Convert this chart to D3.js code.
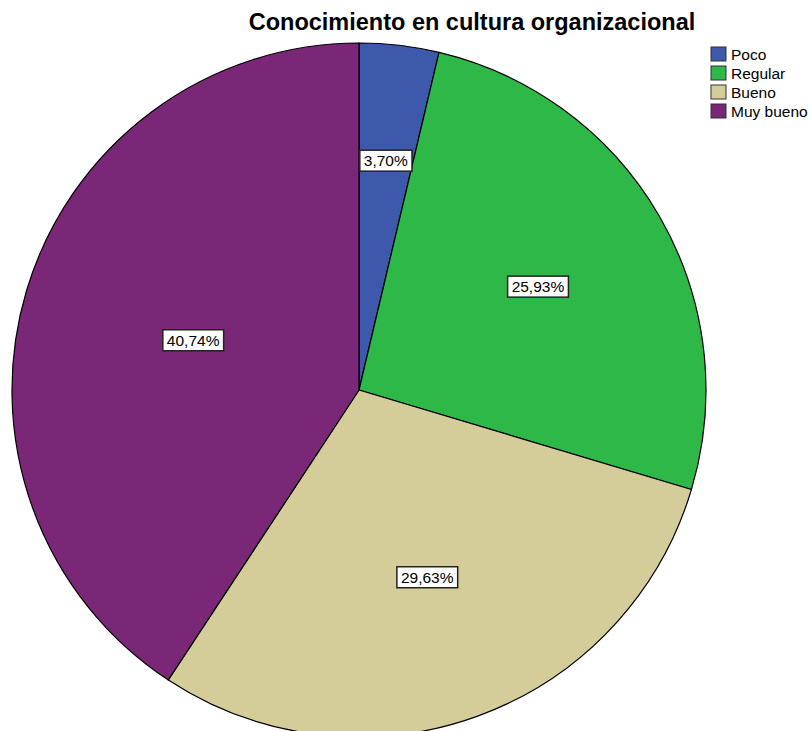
<!DOCTYPE html>
<html>
<head>
<meta charset="utf-8">
<script src="https://cdn.jsdelivr.net/npm/d3@7"></script>
<style>
  html, body { margin: 0; padding: 0; background: #fff; }
  svg { display: block; }
  text { font-family: "Liberation Sans", Arial, sans-serif; }
</style>
</head>
<body>
<svg id="chart" width="812" height="731"></svg>
<script>
// Respuestas por nivel de conocimiento
const categories = ["Poco", "Regular", "Bueno", "Muy bueno"];
const counts = [1, 7, 8, 11];
const percentLabels = ["3,70%", "25,93%", "29,63%", "40,74%"];
const colors = ["#3E58AC", "#2EB848", "#D4CD99", "#7A2778"];
const title = "Conocimiento en cultura organizacional";

const svg = d3.select("#chart");
const W = 812, H = 731;
const cx = 359, cy = 390, R = 347;

svg.append("rect").attr("width", W).attr("height", H).attr("fill", "#fff");

const pie = d3.pie().sort(null).value(d => d.value);
const data = categories.map((c, i) => ({ name: c, value: counts[i], label: percentLabels[i], color: colors[i] }));
const arcs = pie(data);
const arc = d3.arc().innerRadius(0).outerRadius(R);

const g = svg.append("g").attr("transform", `translate(${cx},${cy})`);

g.selectAll("path.slice")
  .data(arcs)
  .join("path")
  .attr("class", "slice")
  .attr("d", arc)
  .attr("fill", d => d.data.color)
  .attr("stroke", "#000")
  .attr("stroke-width", 1.2)
  .attr("stroke-linejoin", "round");

// Labels placed at the geometric centroid of each sector
const labels = g.selectAll("g.lbl")
  .data(arcs)
  .join("g")
  .attr("class", "lbl")
  .attr("transform", d => {
    const half = (d.endAngle - d.startAngle) / 2;
    const mid = (d.startAngle + d.endAngle) / 2;
    const dist = 2 * R * Math.sin(half) / (3 * half);
    return `translate(${dist * Math.sin(mid)},${-dist * Math.cos(mid)})`;
  });

labels.append("text")
  .attr("text-anchor", "middle")
  .attr("dy", "0.35em")
  .attr("font-size", 15.5)
  .attr("fill", "#000")
  .text(d => d.data.label)
  .each(function () {
    const b = this.getBBox();
    d3.select(this.parentNode).insert("rect", "text")
      .attr("x", b.x - 4)
      .attr("y", b.y - 2)
      .attr("width", b.width + 8)
      .attr("height", b.height + 4)
      .attr("fill", "#fff")
      .attr("stroke", "#222")
      .attr("stroke-width", 1.5);
  });

// Title
svg.append("text")
  .attr("x", 472)
  .attr("y", 30)
  .attr("text-anchor", "middle")
  .attr("font-size", 23.5)
  .attr("font-weight", "bold")
  .attr("fill", "#000")
  .text(title);

// Legend
const legend = svg.append("g").attr("transform", "translate(711,47)");
const rows = legend.selectAll("g")
  .data(data)
  .join("g")
  .attr("transform", (d, i) => `translate(0,${i * 19})`);
rows.append("rect")
  .attr("width", 15).attr("height", 14)
  .attr("fill", d => d.color)
  .attr("stroke", "#333").attr("stroke-width", 1);
rows.append("text")
  .attr("x", 20).attr("y", 7).attr("dy", "0.36em")
  .attr("font-size", 15.5).attr("fill", "#000")
  .text(d => d.name);
</script>
</body>
</html>
